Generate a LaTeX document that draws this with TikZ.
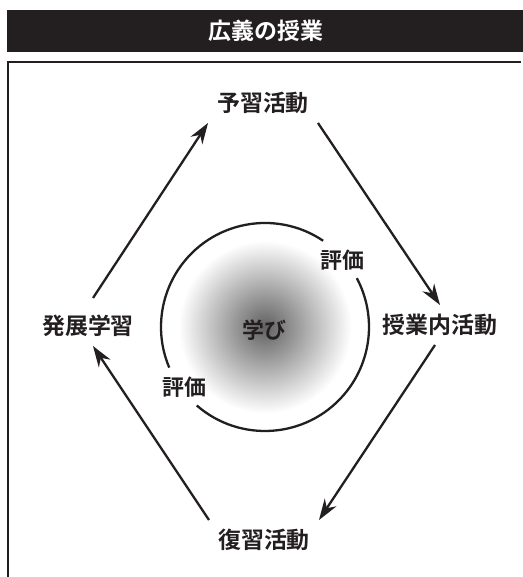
\documentclass[tikz,border=0pt]{standalone}
\usepackage{fontspec}
\setmainfont{Noto Sans CJK JP}[BoldFont={Noto Sans CJK JP Bold}]
\usepackage{tikz}
\usetikzlibrary{arrows.meta, positioning, shapes}
\definecolor{ink}{RGB}{35,31,32}
\pgfdeclareradialshading{manabiglow}{\pgfpoint{0bp}{0bp}}{%
  color(0bp)=(black!62); color(21bp)=(white); color(25bp)=(white); color(50bp)=(white)}

\tikzset{
  act/.style={font=\fontsize{23}{23}\selectfont\bfseries, inner sep=8bp},
  hyoka/.style={font=\fontsize{22}{22}\selectfont\bfseries, inner sep=2bp},
}

\begin{document}
\begin{tikzpicture}[x=1bp, y=1bp, color=ink, line width=2.3bp, >={Stealth[length=21bp,width=14bp]}]%,>=stealth']
    \useasboundingbox (0,0) rectangle (523,577);

    % title bar and frame
    \fill[ink] (7,525) rectangle (523,567);
    \node[font=\fontsize{23}{23}\selectfont\bfseries, text=white] (title) at (266,546) {広義の授業};
    \draw[line width=2bp] (8,0) |- (521,515);

    % centre
    \shade[shading=manabiglow] (265,250) circle (103);
    \draw (265,250) ++(56:104) arc (56:203:104);
    \draw (265,250) ++(229:104) arc (229:388:104);
    \node[font=\fontsize{22}{22}\selectfont\bfseries, text=ink] (manabi) at (264,247) {学び};
    \node[hyoka] (hyoka1) at (342,317) {評価};
    \node[hyoka] (hyoka2) at (184,190) {評価};

    \node[act] (yoshu)   at (263,474) {予習活動};
    \node[act] (jugyo)   at (440,252) {授業内活動};
    \node[act] (fukushu) at (264,37)  {復習活動};
    \node[act] (hatten)  at (88,251)  {発展学習};

    \path[->]
    ([xshift=5bp,yshift=8bp]hatten.north) edge (yoshu.south west)
    (yoshu.south east) edge (jugyo.north)
    ([xshift=-5bp]jugyo.south) edge (fukushu.north east)
    (fukushu.north west) edge ([xshift=5bp]hatten.south);
\end{tikzpicture}
\end{document}
